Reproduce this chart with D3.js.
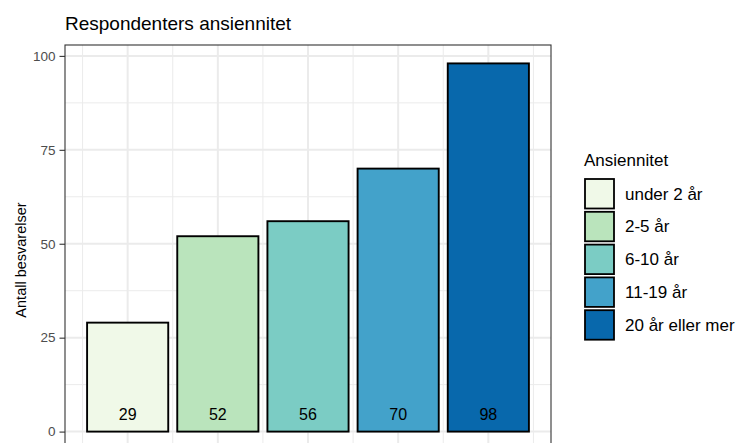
<!DOCTYPE html>
<html>
<head>
<meta charset="utf-8">
<script src="https://cdn.jsdelivr.net/npm/d3@7"></script>
<style>
  body { margin: 0; background: #fff; }
  svg { display: block; font-family: "Liberation Sans", Arial, sans-serif; }
</style>
</head>
<body>
<div id="chart"></div>
<script>
var categories = ["under 2 år", "2-5 år", "6-10 år", "11-19 år", "20 år eller mer"];
var counts = [29, 52, 56, 70, 98];
var colors = ["#f0f9e8", "#bae4bc", "#7bccc4", "#43a2ca", "#0868ac"];
var yTicks = [0, 25, 50, 75, 100];
var yMinor = [12.5, 37.5, 62.5, 87.5];
var xMinor = [0.5, 1.5, 2.5, 3.5, 4.5, 5.5];

var width = 739, height = 443;
var panel = { left: 65, right: 551, top: 45, bottom: 450 };

var svg = d3.select("#chart").append("svg")
    .attr("width", width)
    .attr("height", height);

var xScale = d3.scaleLinear().domain([0.305, 5.695]).range([panel.left, panel.right]);
var yScale = d3.scaleLinear().domain([-4.9, 102.9]).range([panel.bottom, panel.top]);

// grid
var grid = svg.append("g");
grid.selectAll(".ymin").data(yMinor).enter().append("line")
    .attr("x1", panel.left).attr("x2", panel.right)
    .attr("y1", d => yScale(d)).attr("y2", d => yScale(d))
    .attr("stroke", "#ebebeb").attr("stroke-width", 1);
grid.selectAll(".xmin").data(xMinor).enter().append("line")
    .attr("y1", panel.top).attr("y2", panel.bottom)
    .attr("x1", d => xScale(d)).attr("x2", d => xScale(d))
    .attr("stroke", "#ebebeb").attr("stroke-width", 1);
grid.selectAll(".ymaj").data(yTicks).enter().append("line")
    .attr("x1", panel.left).attr("x2", panel.right)
    .attr("y1", d => yScale(d)).attr("y2", d => yScale(d))
    .attr("stroke", "#ebebeb").attr("stroke-width", 2);
grid.selectAll(".xmaj").data(categories).enter().append("line")
    .attr("y1", panel.top).attr("y2", panel.bottom)
    .attr("x1", (d, i) => xScale(i + 1)).attr("x2", (d, i) => xScale(i + 1))
    .attr("stroke", "#ebebeb").attr("stroke-width", 2);

// bars
svg.selectAll(".bar").data(counts).enter().append("rect")
    .attr("x", (d, i) => xScale(i + 1 - 0.45))
    .attr("width", xScale(0.9) - xScale(0))
    .attr("y", d => yScale(d))
    .attr("height", d => yScale(0) - yScale(d))
    .attr("fill", (d, i) => colors[i])
    .attr("stroke", "#000")
    .attr("stroke-width", 1.9);

svg.selectAll(".lab").data(counts).enter().append("text")
    .attr("x", (d, i) => xScale(i + 1))
    .attr("y", yScale(0) - 11.5)
    .attr("text-anchor", "middle")
    .style("font-size", "16px")
    .attr("fill", "#000")
    .text(d => d);

// panel border
svg.append("rect")
    .attr("x", panel.left).attr("y", panel.top)
    .attr("width", panel.right - panel.left)
    .attr("height", panel.bottom - panel.top)
    .attr("fill", "none").attr("stroke", "#333").attr("stroke-width", 1.1);

// y axis
var yAxis = d3.axisLeft(yScale).tickValues(yTicks).tickSize(5.5).tickPadding(4);
var yg = svg.append("g")
    .attr("transform", "translate(" + panel.left + ",0)")
    .call(yAxis);
yg.select(".domain").remove();
yg.selectAll(".tick line").attr("stroke", "#333").attr("stroke-width", 1.1);
yg.selectAll(".tick text")
    .attr("fill", "#4d4d4d")
    .style("font-size", "13.5px")
    .style("font-family", "'Liberation Sans', Arial, sans-serif");

svg.append("text")
    .attr("transform", "translate(25.5," + 260 + ") rotate(-90)")
    .attr("text-anchor", "middle")
    .style("font-size", "14.5px")
    .text("Antall besvarelser");

// title
svg.append("text")
    .attr("x", panel.left)
    .attr("y", 30)
    .style("font-size", "19px")
    .text("Respondenters ansiennitet");

// legend
var legend = svg.append("g").attr("transform", "translate(584,0)");
legend.append("text")
    .attr("x", 0).attr("y", 166)
    .style("font-size", "17px")
    .text("Ansiennitet");
var items = legend.selectAll(".item").data(categories).enter().append("g")
    .attr("transform", (d, i) => "translate(0," + (179 + i * 32.8) + ")");
items.append("rect")
    .attr("x", 1).attr("y", 0)
    .attr("width", 29).attr("height", 29.5)
    .attr("fill", (d, i) => colors[i])
    .attr("stroke", "#000").attr("stroke-width", 1.8);
items.append("text")
    .attr("x", 41).attr("y", 14.75)
    .attr("dy", "0.35em")
    .style("font-size", "17px")
    .text(d => d);
</script>
</body>
</html>
